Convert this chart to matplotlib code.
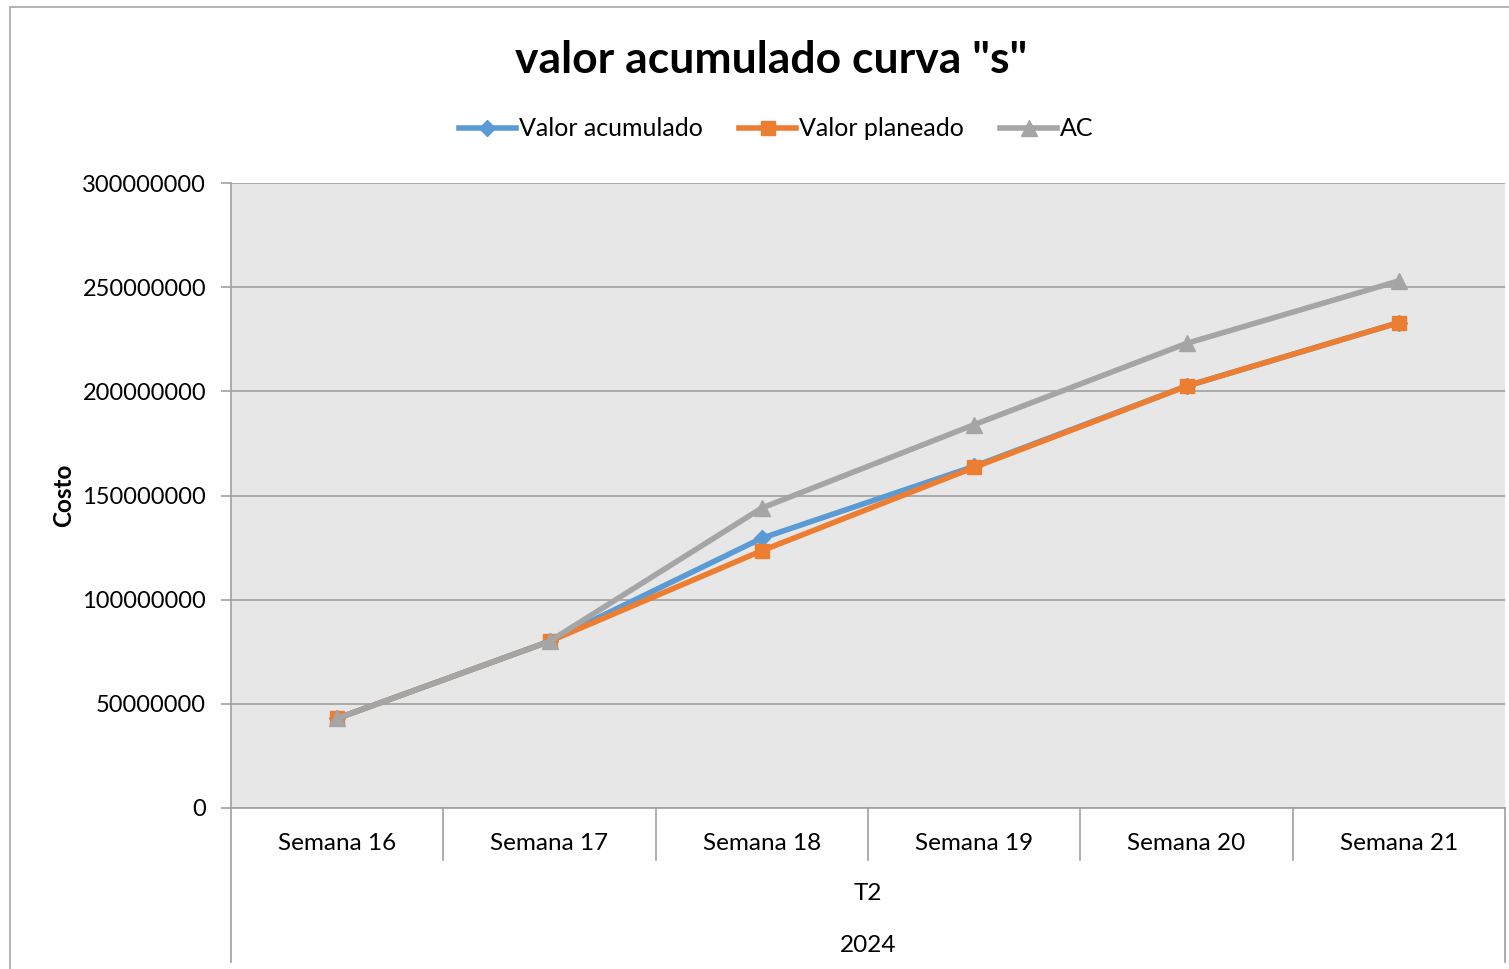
import matplotlib
matplotlib.use("Agg")
import matplotlib.pyplot as plt
from matplotlib.patches import Rectangle
import matplotlib.transforms as mtransforms

plt.rcParams['font.family'] = ['Lato', 'DejaVu Sans']

categories = ["Semana 16", "Semana 17", "Semana 18", "Semana 19", "Semana 20", "Semana 21"]
group_quarter = "T2"
group_year = "2024"
valor_acumulado = [43e6, 80e6, 129.5e6, 164e6, 202.5e6, 233e6]
valor_planeado = [43e6, 80e6, 123.5e6, 163.5e6, 202.5e6, 233e6]
ac = [43e6, 80e6, 144e6, 184e6, 223e6, 253e6]
yticks = [0, 50000000, 100000000, 150000000, 200000000, 250000000, 300000000]

W, H = 1509, 969
fig = plt.figure(figsize=(W / 100, H / 100), dpi=100)
fig.patch.set_facecolor("white")

# chart frame
fig.patches.append(Rectangle((10 / W, -0.01), 1.2, 1 - 7 / H + 0.01, transform=fig.transFigure,
                             fill=False, edgecolor="#A6A6A6", linewidth=1.2))

left, right, top, bottom = 231, 1505, 183, 808
ax = fig.add_axes([left / W, 1 - bottom / H, (right - left) / W, (bottom - top) / H])
ax.set_facecolor("#E7E7E7")

x = list(range(len(categories)))
lw = 4.0
ax.plot(x, valor_acumulado, color="#5B9BD5", lw=lw, marker="D", ms=8, label="Valor acumulado", zorder=3,
        solid_joinstyle="round")
ax.plot(x, valor_planeado, color="#ED7D31", lw=lw, marker="s", ms=10, label="Valor planeado", zorder=4,
        solid_joinstyle="round")
ax.plot(x, ac, color="#A5A5A5", lw=lw, marker="^", ms=11, label="AC", zorder=5,
        solid_joinstyle="round")

ax.set_xlim(-0.5, len(categories) - 0.5)
ax.set_ylim(0, 300000000)
ax.set_yticks(yticks)
ax.set_yticklabels([str(v) for v in yticks], fontsize=17)
ax.yaxis.grid(True, color="#A0A0A0", lw=1.2)
ax.set_axisbelow(True)
ax.tick_params(axis="y", length=7, width=1.2, color="#A0A0A0", pad=11)

ax.set_xticks(x)
ax.set_xticklabels(categories, fontsize=17.5)
ax.tick_params(axis="x", length=0, pad=18)

for s in ["top", "right"]:
    ax.spines[s].set_visible(False)
for s in ["left", "bottom"]:
    ax.spines[s].set_color("#A0A0A0")
    ax.spines[s].set_linewidth(1.2)

# multi-level category axis separators
trans = mtransforms.blended_transform_factory(ax.transData, fig.transFigure)
y_axis = 1 - bottom / H
y_sep = 1 - 860 / H
y_end = 1 - 962 / H
bounds = [i - 0.5 for i in range(len(categories) + 1)]
for i, b in enumerate(bounds):
    yb = y_end if i in (0, len(bounds) - 1) else y_sep
    ax.plot([b, b], [y_axis, yb], transform=trans, color="#A0A0A0", lw=1.2, clip_on=False)

xmid = (bounds[0] + bounds[-1]) / 2
ax.text(xmid, 1 - 894 / H, group_quarter, transform=trans, ha="center", va="center", fontsize=17.5)
ax.text(xmid, 1 - 946 / H, group_year, transform=trans, ha="center", va="center", fontsize=17.5)

ax.set_ylabel("Costo", fontsize=17.5, fontweight="bold", labelpad=5)

fig.text(771 / W, 1 - 60 / H, 'valor acumulado curva "s"', ha="center", va="center",
         fontsize=32, fontweight="bold")

fig.legend(loc="center", bbox_to_anchor=(776 / W, 1 - 129 / H), ncol=3, frameon=False,
           fontsize=18, handlelength=2.3, handletextpad=0.1, columnspacing=1.45)

fig.savefig("out.png", dpi=100)
